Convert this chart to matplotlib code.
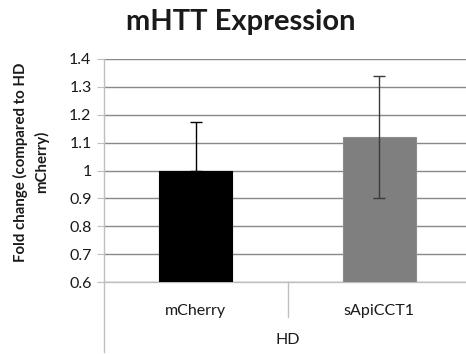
import matplotlib
matplotlib.use('Agg')
import matplotlib.pyplot as plt

matplotlib.rcParams.update({'font.family': 'Lato', 'font.size': 11.5})

categories = ['mCherry', 'sApiCCT1']
group_label = 'HD'
fold_change = [1.0, 1.12]
errors = [0.175, 0.22]
bar_colors = ['#000000', '#7f7f7f']
y_ticks = [0.6, 0.7, 0.8, 0.9, 1.0, 1.1, 1.2, 1.3, 1.4]
y_tick_labels = ['0.6', '0.7', '0.8', '0.9', '1', '1.1', '1.2', '1.3', '1.4']

fig = plt.figure(figsize=(4.66, 3.54), dpi=100)
ax = fig.add_axes([104 / 466, 1 - 282 / 354, 367 / 466, 223 / 354])

x = list(range(len(categories)))
ax.bar(x, [v - 0.6 for v in fold_change], bottom=0.6, width=0.4,
       color=bar_colors, edgecolor=['#000000', '#8c8c8c'], linewidth=0.8, zorder=3)
# error bars: mCherry shows only the upper half
ax.errorbar(x[0], fold_change[0], yerr=[[0], [errors[0]]], fmt='none',
            ecolor='#000000', elinewidth=1, capsize=4, capthick=1, zorder=4)
ax.errorbar(x[1], fold_change[1], yerr=errors[1], fmt='none',
            ecolor='#3a3a3a', elinewidth=1, capsize=4, capthick=1, zorder=4)

ax.set_xlim(-0.5, 1.5)
ax.set_ylim(0.6, 1.4)
ax.set_yticks(y_ticks)
ax.set_yticklabels(y_tick_labels, color='#1a1a1a')
ax.yaxis.grid(True, color='#888888', linewidth=1)
ax.set_axisbelow(True)
ax.tick_params(axis='y', length=5, color='#bfbfbf', pad=4)
ax.tick_params(axis='x', length=0, pad=16, colors='#1a1a1a')
ax.set_xticks(x)
ax.set_xticklabels(categories)

for side in ['top', 'right']:
    ax.spines[side].set_visible(False)
ax.spines['left'].set_color('#bfbfbf')
ax.spines['bottom'].set_color('#bfbfbf')
ax.spines['left'].set_linewidth(1)
ax.spines['bottom'].set_linewidth(1)

# multi-level category axis
ax.plot([-0.5, -0.5], [0.6, 0.6 - 70 / 223 * 0.8], color='#bfbfbf', lw=1, clip_on=False)
ax.plot([0.5, 0.5], [0.6, 0.6 - 35 / 223 * 0.8], color='#bfbfbf', lw=1, clip_on=False)
ax.text(0.5, 0.6 - 58 / 223 * 0.8, group_label, ha='center', va='center', color='#1a1a1a')

fig.text(31 / 466, 1 - 162 / 354, 'Fold change (compared to HD\nmCherry)',
         rotation=90, ha='center', va='center', multialignment='center',
         fontsize=10.8, fontweight='bold', linespacing=1.45, color='#1a1a1a')
fig.text(241 / 466, 1 - 22 / 354, 'mHTT Expression', ha='center', va='center',
         fontsize=21, fontweight='bold', color='#1a1a1a')

fig.savefig('out.png', dpi=100)
